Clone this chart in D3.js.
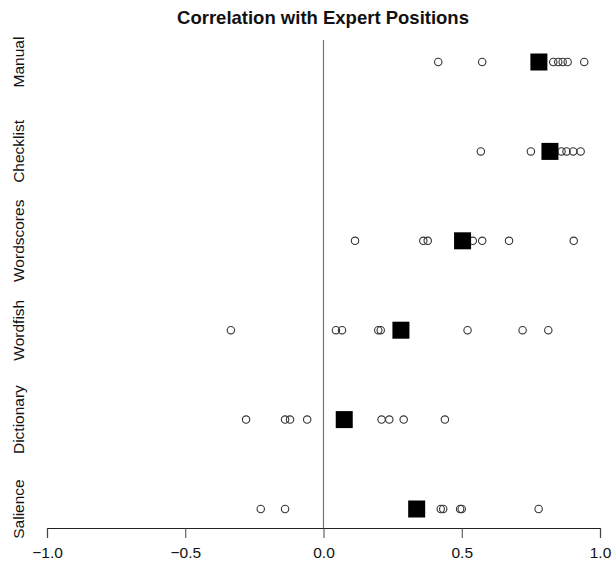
<!DOCTYPE html>
<html>
<head>
<meta charset="utf-8">
<script src="https://cdnjs.cloudflare.com/ajax/libs/d3/7.8.5/d3.min.js"></script>
<style>
  body { margin: 0; background: #fff; }
  text { font-family: "Liberation Sans", Arial, sans-serif; }
</style>
</head>
<body>
<div id="chart"></div>
<script>
// Correlation with expert positions, one row per method

var methods = ["Manual", "Checklist", "Wordscores", "Wordfish", "Dictionary", "Salience"];

// single correlations (open circles)
var manualVals     = [0.415, 0.574, 0.831, 0.849, 0.865, 0.883, 0.943];
var checklistVals  = [0.569, 0.750, 0.861, 0.879, 0.903, 0.930];
var wordscoresVals = [0.114, 0.361, 0.377, 0.540, 0.574, 0.671, 0.905];
var wordfishVals   = [-0.335, 0.045, 0.067, 0.198, 0.207, 0.521, 0.720, 0.813];
var dictionaryVals = [-0.280, -0.139, -0.121, -0.059, 0.210, 0.238, 0.290, 0.439];
var salienceVals   = [-0.227, -0.139, 0.424, 0.433, 0.494, 0.500, 0.778];

// summary value per method (filled squares)
var summaryVals = [0.779, 0.819, 0.503, 0.280, 0.075, 0.337];

var xTicks = [-1, -0.5, 0, 0.5, 1];

var allVals = [manualVals, checklistVals, wordscoresVals, wordfishVals, dictionaryVals, salienceVals];

var width = 612, height = 563;
var margin = {left: 47, right: 11, top: 40, bottom: 35};

var svg = d3.select("#chart").append("svg")
    .attr("width", width)
    .attr("height", height);

var x = d3.scaleLinear()
    .domain([-1, 1])
    .range([47, 600]);

var y = d3.scalePoint()
    .domain(methods)
    .range([62, 509]);

// title
svg.append("text")
    .attr("x", 323)
    .attr("y", 24)
    .attr("text-anchor", "middle")
    .style("font-size", "18.5px")
    .style("font-weight", "bold")
    .attr("fill", "#111")
    .text("Correlation with Expert Positions");

// zero line
svg.append("line")
    .attr("x1", x(0)).attr("x2", x(0))
    .attr("y1", margin.top).attr("y2", 528)
    .attr("stroke", "#777")
    .attr("stroke-width", 1.2);

// x axis
var xAxis = d3.axisBottom(x)
    .tickValues(xTicks)
    .tickSize(10)
    .tickFormat(d3.format(".1f"));

var gx = svg.append("g")
    .attr("transform", "translate(0,528)")
    .call(xAxis);
gx.select(".domain").attr("stroke", "#222").attr("stroke-width", 1.2);
gx.selectAll(".tick line").attr("stroke", "#444");
gx.selectAll(".tick text")
    .attr("y", 30)
    .attr("dy", null)
    .style("font-size", "15.5px")
    .style("font-family", "Liberation Sans, Arial, sans-serif")
    .attr("fill", "#111");

// row labels
svg.selectAll(".rowlab")
    .data(methods)
  .enter().append("text")
    .attr("class", "rowlab")
    .attr("transform", function(d){ return "translate(24," + y(d) + ") rotate(-90)"; })
    .attr("text-anchor", "middle")
    .style("font-size", "15.5px")
    .attr("fill", "#111")
    .text(function(d){ return d; });

// points
methods.forEach(function(m, i) {
    svg.selectAll(".pt" + i)
        .data(allVals[i])
      .enter().append("circle")
        .attr("cx", function(d){ return x(d); })
        .attr("cy", y(m))
        .attr("r", 3.7)
        .attr("fill", "none")
        .attr("stroke", "#333")
        .attr("stroke-width", 1.1);
});

var sq = 17;
svg.selectAll(".summary")
    .data(summaryVals)
  .enter().append("rect")
    .attr("x", function(d){ return x(d) - sq / 2; })
    .attr("y", function(d, i){ return y(methods[i]) - sq / 2; })
    .attr("width", sq)
    .attr("height", sq)
    .attr("fill", "#000");
</script>
</body>
</html>
